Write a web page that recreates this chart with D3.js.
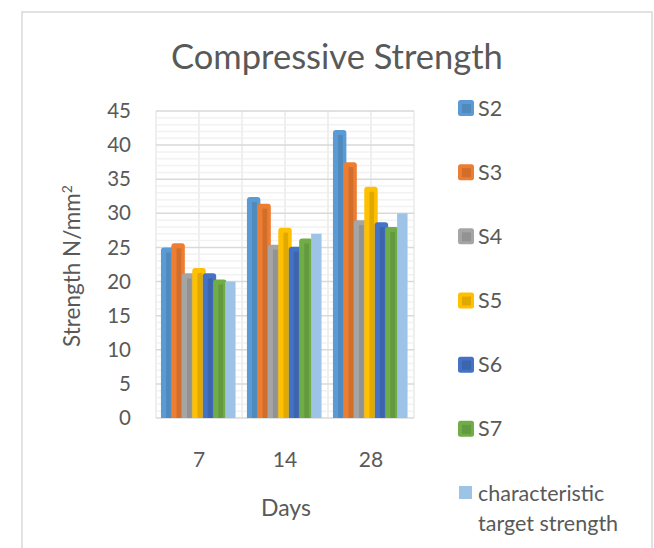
<!DOCTYPE html>
<html>
<head>
<meta charset="utf-8">
<script src="https://cdn.jsdelivr.net/npm/d3@7"></script>
<style>
  html, body { margin: 0; padding: 0; background: #fff; }
  svg { display: block; }
  text { font-family: Lato, "Open Sans", sans-serif; fill: #595959; }
</style>
</head>
<body>
<svg id="chart" width="654" height="548"></svg>
<script>
// Compressive strength by curing age (days)
const days = ["7", "14", "28"];
const seriesNames = ["S2", "S3", "S4", "S5", "S6", "S7", "characteristic target strength"];
const S2 = [25.0, 32.4, 42.2];
const S3 = [25.6, 31.4, 37.5];
const S4 = [21.2, 25.4, 29.0];
const S5 = [22.0, 27.9, 33.9];
const S6 = [21.2, 25.1, 28.7];
const S7 = [20.3, 26.3, 28.0];
const target = [20, 27, 30];
const yTicks = [0, 5, 10, 15, 20, 25, 30, 35, 40, 45];

const values = [S2, S3, S4, S5, S6, S7, target];
const colors = ["#5B9BD5", "#ED7D31", "#A5A5A5", "#FFC000", "#4472C4", "#70AD47", "#9DC3E6"];
const bevelled = [true, true, true, true, true, true, false];

const svg = d3.select("#chart");

// outer chart frame
svg.append("rect")
  .attr("x", 22).attr("y", 12).attr("width", 630).attr("height", 560)
  .attr("fill", "#fff").attr("stroke", "#d9d9d9").attr("stroke-width", 1.5);

const plot = { left: 156, right: 414, top: 111, bottom: 418 };

const y = d3.scaleLinear().domain([0, 45]).range([plot.bottom, plot.top]);
const x0 = d3.scaleBand().domain(days).range([plot.left, plot.right])
  .paddingInner(0.15).paddingOuter(0.075);
const x1 = d3.scaleBand().domain(d3.range(seriesNames.length)).range([0, x0.bandwidth()]);
const xHalf = d3.scaleLinear().domain([0, days.length * 2]).range([plot.left, plot.right]);

const grid = svg.append("g");
// minor horizontal gridlines every 1 unit
grid.selectAll("line.minor")
  .data(d3.range(0, 46).filter(v => v % 5 !== 0))
  .join("line")
  .attr("x1", plot.left).attr("x2", plot.right)
  .attr("y1", d => y(d)).attr("y2", d => y(d))
  .attr("stroke", "#f2f2f2").attr("stroke-width", 1.5);
// vertical minor gridlines at half-category spacing
grid.selectAll("line.vert")
  .data(d3.range(0, days.length * 2 + 1))
  .join("line")
  .attr("x1", d => xHalf(d)).attr("x2", d => xHalf(d))
  .attr("y1", plot.top).attr("y2", plot.bottom)
  .attr("stroke", "#efefef").attr("stroke-width", 2);
// major horizontal gridlines
grid.selectAll("line.major")
  .data(yTicks)
  .join("line")
  .attr("x1", plot.left).attr("x2", plot.right)
  .attr("y1", d => y(d)).attr("y2", d => y(d))
  .attr("stroke", "#d9d9d9").attr("stroke-width", 1.5);

// y axis labels
const yAxis = svg.append("g")
  .attr("transform", `translate(${plot.left - 25},0)`)
  .call(d3.axisLeft(y).tickValues(yTicks).tickSize(0).tickPadding(0));
yAxis.select(".domain").remove();
yAxis.selectAll("text").style("font-size", "20.5px").attr("fill", "#595959")
  .style("font-family", "Lato, sans-serif");

// x axis labels
const xAxis = svg.append("g")
  .attr("transform", `translate(0,${plot.bottom + 34})`)
  .call(d3.axisBottom(x0).tickSize(0).tickPadding(0));
xAxis.select(".domain").remove();
xAxis.selectAll("text").style("font-size", "21px").attr("fill", "#595959")
  .style("font-family", "Lato, sans-serif");

// bars
const barsG = svg.append("g");
const pad = 1.5;
seriesNames.forEach((name, si) => {
  const col = colors[si];
  const g = barsG.append("g");
  days.forEach((day, ci) => {
    const v = values[si][ci];
    const bx = x0(day) + x1(si);
    const bw = x1.bandwidth();
    const top = y(v);
    if (bevelled[si]) {
      const w = bw + pad * 2, r = 3;
      const xl = bx - pad;
      g.append("path")
        .attr("d", `M${xl},${plot.bottom} V${top + r} Q${xl},${top} ${xl + r},${top} H${xl + w - r} Q${xl + w},${top} ${xl + w},${top + r} V${plot.bottom} Z`)
        .attr("fill", col);
      g.append("rect")
        .attr("x", bx + bw * 0.35).attr("y", top + 5)
        .attr("width", bw * 0.45).attr("height", Math.max(0, plot.bottom - top - 5))
        .attr("fill", d3.color(col).darker(0.35));
    } else {
      g.append("rect")
        .attr("x", bx).attr("y", top).attr("width", bw).attr("height", plot.bottom - top)
        .attr("fill", col);
    }
  });
});

// title
svg.append("text")
  .attr("x", 337).attr("y", 69).attr("text-anchor", "middle")
  .style("font-size", "34.5px").text("Compressive Strength");

// axis titles
svg.append("text")
  .attr("transform", `translate(80,266) rotate(-90)`)
  .attr("text-anchor", "middle").style("font-size", "22.5px")
  .html('Strength N/mm<tspan baseline-shift="super" font-size="14px">2</tspan>');

svg.append("text")
  .attr("x", 286).attr("y", 516).attr("text-anchor", "middle")
  .style("font-size", "23px").text("Days");

// legend
const legend = svg.append("g");
const legendY = d3.scaleLinear().domain([0, 6]).range([108, 493]);
seriesNames.forEach((name, i) => {
  const cy = legendY(i);
  const col = colors[i];
  if (bevelled[i]) {
    legend.append("rect").attr("x", 458).attr("y", cy - 8).attr("width", 16).attr("height", 16)
      .attr("rx", 2.5).attr("fill", col);
    legend.append("rect").attr("x", 462).attr("y", cy - 4).attr("width", 9).attr("height", 9)
      .attr("fill", d3.color(col).darker(0.35));
  } else {
    legend.append("rect").attr("x", 459).attr("y", cy - 7).attr("width", 13).attr("height", 13)
      .attr("fill", col);
  }
  if (i < 6) {
    legend.append("text").attr("x", 478).attr("y", cy + 7.5).style("font-size", "21.5px").text(name);
  } else {
    const t = legend.append("text").attr("x", 478).attr("y", cy + 7.5).style("font-size", "21.5px");
    t.append("tspan").attr("x", 478).text("characteristic");
    t.append("tspan").attr("x", 478).attr("dy", 30).text("target strength");
  }
});
</script>
</body>
</html>
